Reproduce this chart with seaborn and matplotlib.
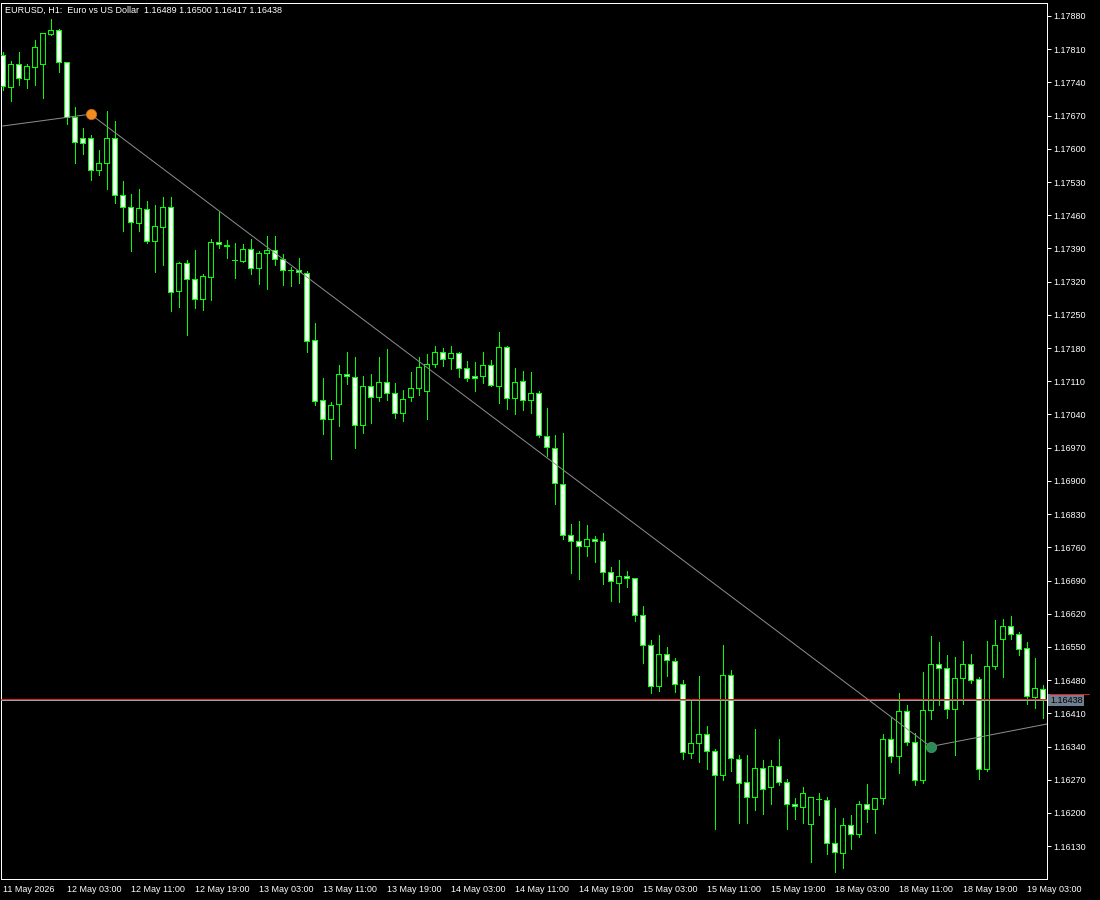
"""EURUSD H1 candlestick chart in MetaTrader style (green on black)."""
import matplotlib
matplotlib.use("Agg")
import matplotlib.pyplot as plt
import numpy as np
import pandas as pd
import seaborn as sns

TITLE = "EURUSD, H1:  Euro vs US Dollar  1.16489 1.16500 1.16417 1.16438"

TIME_LABELS = [
    "11 May 2026", "12 May 03:00", "12 May 11:00", "12 May 19:00",
    "13 May 03:00", "13 May 11:00", "13 May 19:00", "14 May 03:00",
    "14 May 11:00", "14 May 19:00", "15 May 03:00", "15 May 11:00",
    "15 May 19:00", "18 May 03:00", "18 May 11:00", "18 May 19:00",
    "19 May 03:00",
]

OPEN = [
    1.17798, 1.17731, 1.17779, 1.17747, 1.17773, 1.17779, 1.17842, 1.17851,
    1.17783, 1.17667, 1.17623, 1.17623, 1.17556, 1.17570, 1.17623, 1.17503,
    1.17478, 1.17444, 1.17473, 1.17406, 1.17435, 1.17478, 1.17301, 1.17360,
    1.17326, 1.17284, 1.17330, 1.17404, 1.17398, 1.17366, 1.17364, 1.17389,
    1.17349, 1.17381, 1.17387, 1.17368, 1.17345, 1.17345, 1.17339, 1.17197,
    1.17071, 1.17031, 1.17062, 1.17126, 1.17119, 1.17018, 1.17100, 1.17077,
    1.17109, 1.17086, 1.17043, 1.17077, 1.17096, 1.17090, 1.17147, 1.17172,
    1.17159, 1.17170, 1.17138, 1.17121, 1.17121, 1.17145, 1.17100, 1.17183,
    1.17075, 1.17111, 1.17071, 1.17086, 1.16995, 1.16970, 1.16894, 1.16786,
    1.16774, 1.16763, 1.16778, 1.16774, 1.16708, 1.16685, 1.16700, 1.16696,
    1.16618, 1.16554, 1.16468, 1.16535, 1.16521, 1.16472, 1.16327, 1.16348,
    1.16367, 1.16331, 1.16280, 1.16491, 1.16314, 1.16266, 1.16234, 1.16295,
    1.16255, 1.16299, 1.16266, 1.16219, 1.16213, 1.16177, 1.16230, 1.16228,
    1.16137, 1.16116, 1.16175, 1.16156, 1.16219, 1.16209, 1.16232, 1.16356,
    1.16320, 1.16415, 1.16350, 1.16270, 1.16417, 1.16514, 1.16506, 1.16419,
    1.16485, 1.16514, 1.16483, 1.16293, 1.16510, 1.16567, 1.16594, 1.16578,
    1.16548, 1.16445, 1.16462,
]
HIGH = [
    1.17804, 1.17785, 1.17804, 1.17779, 1.17830, 1.17844, 1.17874, 1.17853,
    1.17783, 1.17688, 1.17644, 1.17629, 1.17598, 1.17680, 1.17659, 1.17532,
    1.17505, 1.17516, 1.17490, 1.17482, 1.17499, 1.17499, 1.17362, 1.17366,
    1.17387, 1.17336, 1.17410, 1.17467, 1.17408, 1.17402, 1.17400, 1.17410,
    1.17385, 1.17417, 1.17417, 1.17379, 1.17351, 1.17370, 1.17343, 1.17233,
    1.17117, 1.17067, 1.17145, 1.17172, 1.17161, 1.17121, 1.17126, 1.17161,
    1.17178, 1.17107, 1.17092, 1.17130, 1.17161, 1.17168, 1.17185, 1.17180,
    1.17185, 1.17172, 1.17153, 1.17151, 1.17172, 1.17155, 1.17214, 1.17185,
    1.17138, 1.17132, 1.17130, 1.17090, 1.17054, 1.16997, 1.17001, 1.16809,
    1.16816, 1.16807, 1.16784, 1.16790, 1.16719, 1.16734, 1.16710, 1.16696,
    1.16637, 1.16565, 1.16575, 1.16550, 1.16527, 1.16481, 1.16436, 1.16489,
    1.16384, 1.16335, 1.16554, 1.16502, 1.16322, 1.16322, 1.16377, 1.16312,
    1.16312, 1.16356, 1.16272, 1.16232, 1.16255, 1.16234, 1.16242, 1.16234,
    1.16211, 1.16190, 1.16196, 1.16225, 1.16261, 1.16232, 1.16367, 1.16403,
    1.16453, 1.16428, 1.16369, 1.16497, 1.16573, 1.16561, 1.16533, 1.16529,
    1.16563, 1.16535, 1.16487, 1.16563, 1.16607, 1.16609, 1.16615, 1.16582,
    1.16561, 1.16527, 1.16470,
]
LOW = [
    1.17724, 1.17701, 1.17735, 1.17728, 1.17735, 1.17707, 1.17840, 1.17762,
    1.17653, 1.17570, 1.17589, 1.17535, 1.17545, 1.17516, 1.17486, 1.17427,
    1.17385, 1.17427, 1.17402, 1.17341, 1.17355, 1.17258, 1.17267, 1.17208,
    1.17265, 1.17261, 1.17282, 1.17391, 1.17370, 1.17328, 1.17362, 1.17336,
    1.17315, 1.17305, 1.17355, 1.17313, 1.17311, 1.17317, 1.17172, 1.17060,
    1.16999, 1.16946, 1.17016, 1.17105, 1.16970, 1.17001, 1.17022, 1.17069,
    1.17071, 1.17033, 1.17027, 1.17069, 1.17081, 1.17031, 1.17140, 1.17142,
    1.17136, 1.17119, 1.17111, 1.17090, 1.17107, 1.17100, 1.17064, 1.17052,
    1.17041, 1.17050, 1.17043, 1.16993, 1.16953, 1.16852, 1.16778, 1.16706,
    1.16693, 1.16742, 1.16729, 1.16683, 1.16647, 1.16645, 1.16677, 1.16605,
    1.16516, 1.16453, 1.16457, 1.16489, 1.16455, 1.16314, 1.16316, 1.16308,
    1.16293, 1.16166, 1.16270, 1.16289, 1.16179, 1.16179, 1.16207, 1.16198,
    1.16219, 1.16259, 1.16166, 1.16188, 1.16179, 1.16097, 1.16196, 1.16114,
    1.16076, 1.16084, 1.16124, 1.16150, 1.16181, 1.16158, 1.16219, 1.16308,
    1.16284, 1.16344, 1.16259, 1.16263, 1.16398, 1.16428, 1.16400, 1.16322,
    1.16430, 1.16474, 1.16272, 1.16289, 1.16504, 1.16487, 1.16567, 1.16533,
    1.16430, 1.16422, 1.16400,
]
CLOSE = [
    1.17733, 1.17779, 1.17750, 1.17775, 1.17815, 1.17844, 1.17851, 1.17783,
    1.17667, 1.17615, 1.17613, 1.17556, 1.17570, 1.17623, 1.17503, 1.17478,
    1.17446, 1.17476, 1.17406, 1.17438, 1.17478, 1.17298, 1.17360, 1.17326,
    1.17284, 1.17332, 1.17404, 1.17400, 1.17395, 1.17365, 1.17389, 1.17349,
    1.17381, 1.17387, 1.17368, 1.17345, 1.17344, 1.17341, 1.17195, 1.17069,
    1.17031, 1.17060, 1.17126, 1.17121, 1.17018, 1.17100, 1.17077, 1.17109,
    1.17086, 1.17043, 1.17073, 1.17096, 1.17140, 1.17147, 1.17172, 1.17157,
    1.17170, 1.17138, 1.17117, 1.17117, 1.17145, 1.17102, 1.17183, 1.17075,
    1.17109, 1.17071, 1.17086, 1.16997, 1.16972, 1.16896, 1.16786, 1.16774,
    1.16763, 1.16778, 1.16774, 1.16708, 1.16689, 1.16700, 1.16696, 1.16618,
    1.16554, 1.16468, 1.16535, 1.16523, 1.16472, 1.16329, 1.16348, 1.16367,
    1.16331, 1.16280, 1.16491, 1.16316, 1.16263, 1.16234, 1.16295, 1.16251,
    1.16299, 1.16266, 1.16219, 1.16215, 1.16242, 1.16234, 1.16229, 1.16137,
    1.16118, 1.16175, 1.16156, 1.16219, 1.16209, 1.16232, 1.16356, 1.16320,
    1.16415, 1.16350, 1.16270, 1.16417, 1.16514, 1.16506, 1.16419, 1.16485,
    1.16514, 1.16481, 1.16293, 1.16510, 1.16554, 1.16594, 1.16578, 1.16546,
    1.16447, 1.16464, 1.16438,
]

# polyline object drawn over the chart (bar index, price)
TREND_BARS = [0, 11, 116, 131]
TREND_PRICES = [1.17648, 1.17673, 1.16340, 1.16389]

BID = 1.16438
ASK = 1.16440

GREEN = "#00FF00"
PX = 0.72  # one pixel in points at 100 dpi

sns.set_theme(style="dark", rc={
    "figure.facecolor": "black",
    "axes.facecolor": "black",
    "axes.edgecolor": "white",
    "text.color": "white",
    "xtick.color": "white",
    "ytick.color": "white",
})
plt.rcParams["font.family"] = ["Liberation Sans", "DejaVu Sans"]

df = pd.DataFrame({"open": OPEN, "high": HIGH, "low": LOW, "close": CLOSE})
df["bar"] = np.arange(len(df))
df["bull"] = df["close"] >= df["open"]

fig = plt.figure(figsize=(11, 9), dpi=100)
ax = fig.add_axes([1 / 1100, 21 / 900, 1046 / 1100, 876.3 / 900])

# wicks (crisp 1 px lines, like the terminal)
ax.vlines(df["bar"], df["low"], df["high"], color=GREEN, lw=PX,
          antialiased=False, zorder=2)
# bodies: bull = black, bear = white, green outline
body_bottom = df[["open", "close"]].min(axis=1)
body_height = (df["close"] - df["open"]).abs()
ax.bar(df["bar"], body_height, bottom=body_bottom, width=0.55,
       color=np.where(df["bull"], "black", "white"),
       edgecolor=GREEN, linewidth=PX, antialiased=False, zorder=3)

# bid / ask lines
ax.axhline(ASK, color="#E02020", lw=PX, zorder=4)
ax.axhline(BID, color="#A0A0A0", lw=PX, zorder=4)

# trend object
sns.lineplot(x=TREND_BARS, y=TREND_PRICES, ax=ax, color="#8C8C8C",
             lw=PX, zorder=5)
ax.scatter([TREND_BARS[1]], [TREND_PRICES[1]], s=55, color="#F28C1E",
           edgecolor="#C86E10", lw=0.5, zorder=6)
ax.scatter([TREND_BARS[2]], [TREND_PRICES[2]], s=55, color="#2E8B57",
           edgecolor="#3E9E68", lw=0.5, zorder=6)

ax.set_xlim(-0.19, 130.56)
ax.set_ylim(1.160608, 1.179080)

price_ticks = np.round(np.arange(1.16130, 1.17881, 0.0007), 5)
ax.yaxis.tick_right()
ax.set_yticks(price_ticks)
ax.set_yticklabels([f"{p:.5f}" for p in price_ticks])
ax.set_xticks(np.arange(0, len(df), 8))
ax.set_xticklabels(TIME_LABELS, ha="left")
ax.tick_params(axis="y", direction="out", length=3, width=PX,
               pad=1.5, labelsize=6.5)
ax.tick_params(axis="x", direction="out", length=2.5, width=PX,
               pad=2, labelsize=6.5)
ax.grid(False)
for side in ["left", "right", "top", "bottom"]:
    ax.spines[side].set_color("white")
    ax.spines[side].set_linewidth(PX)
ax.set_xlabel("")
ax.set_ylabel("")

# current price tag on the price scale
ax.text(1.0029, BID, f"{BID:.5f}", transform=ax.get_yaxis_transform(),
        ha="left", va="center", fontsize=6.5, color="black", zorder=10,
        clip_on=False,
        bbox=dict(boxstyle="square,pad=0.18", facecolor="#708090",
                  edgecolor="none"))
ax.plot([1.0029, 1.0405], [ASK + 0.00011, ASK + 0.00011], color="#E02020",
        lw=PX, transform=ax.get_yaxis_transform(), clip_on=False, zorder=11)

fig.text(5 / 1100, 1 - 10 / 900, TITLE, ha="left", va="center",
         fontsize=6.5, color="white")

fig.savefig("out.png", dpi=100, facecolor="black")
